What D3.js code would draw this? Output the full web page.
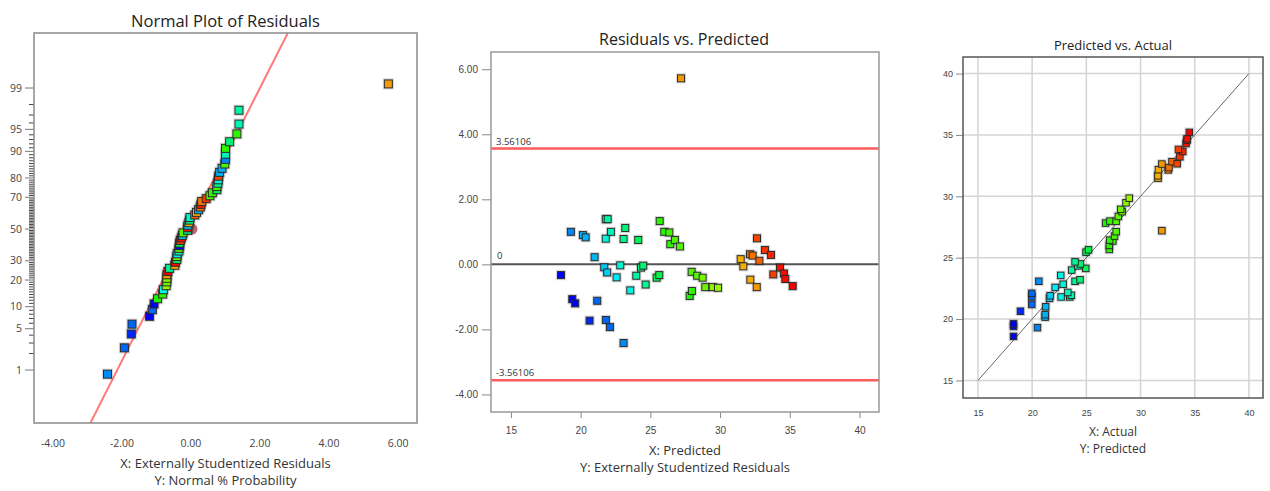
<!DOCTYPE html>
<html>
<head>
<meta charset="utf-8">
<script src="https://cdn.jsdelivr.net/npm/d3@7"></script>
<style>
  html, body { margin: 0; padding: 0; background: #fff; }
  svg { display: block; font-family: "Open Sans", "Noto Sans", sans-serif; }
</style>
</head>
<body>
<svg id="chart" width="1270" height="491"></svg>
<script>
// Diagnostics for 60 runs: model prediction, externally studentized residual, observed response
const predicted = [
  18.59, 19.30, 19.40, 19.61, 20.16, 20.36, 20.64, 21.00, 21.19, 21.69,
  21.80, 21.81, 21.80, 21.94, 21.90, 22.10, 22.17, 22.58, 22.84, 23.08,
  23.08, 23.20, 23.56, 23.99, 24.13, 24.33, 24.49, 24.66, 25.45, 25.64,
  25.67, 26.00, 26.36, 26.43, 26.76, 27.12, 27.20, 27.82, 27.98, 27.96,
  28.36, 28.75, 28.94, 29.47, 29.85, 31.48, 31.67, 32.15, 32.34, 32.82,
  32.65, 33.22, 33.65, 32.17, 32.63, 33.82, 34.30, 34.58, 34.68, 35.21
];
const residual = [
  -0.33,  1.00, -1.07, -1.20,  0.90,  0.83, -1.73,  0.22, -1.12, -0.09,
   0.79, -1.71,  1.39,  1.39, -0.25, -1.93,  1.00, -0.40, -0.03,  0.78,
  -2.42,  1.12, -0.80, -0.35,  0.75, -0.10, -0.04, -0.62, -0.41, -0.33,
   1.33,  1.00,  0.98,  0.62,  0.75,  0.55,  5.72, -0.97, -0.82, -0.23,
  -0.35, -0.41, -0.70, -0.70, -0.72,  0.16, -0.06,  0.31,  0.27,  0.11,
   0.80,  0.44,  0.29, -0.47, -0.70, -0.31, -0.10, -0.28, -0.45, -0.67
];
const actual = [
  18.28, 20.49, 18.28, 18.28, 21.20, 21.20, 18.92, 21.25, 19.97, 21.60,
  22.67, 19.97, 23.47, 23.62, 21.66, 19.97, 23.29, 22.12, 22.86, 23.96,
  20.62, 24.42, 22.64, 23.65, 24.95, 24.22, 24.45, 23.96, 24.97, 25.20,
  27.12, 27.12, 27.45, 27.15, 27.60, 27.75, 31.97, 26.78, 27.18, 27.75,
  27.95, 28.30, 28.17, 28.66, 28.96, 31.62, 31.60, 32.55, 32.62, 32.90,
  33.38, 33.63, 33.90, 31.65, 31.97, 33.50, 34.20, 34.28, 34.30, 34.50
];

// Axis ticks
const probMajor = [1, 5, 10, 20, 30, 50, 70, 80, 90, 95, 99];
const probMinor = d3.range(1, 100);
const residTicks = [-4, -2, 0, 2, 4, 6];
const predTicks = [15, 20, 25, 30, 35, 40];
const residYTicks = [-4, -2, 0, 2, 4, 6];
const pvaTicks = [15, 20, 25, 30, 35, 40];

// Reference lines
const limitValue = 3.56106;
const normalLine = { intercept: -0.07, slope: 0.889 }; // residual = intercept + slope * z

const runs = predicted.map((p, i) => ({ predicted: p, residual: residual[i], actual: actual[i] }));

// Blue -> cyan -> green -> yellow -> red, keyed on the observed response
const hue = d3.scaleLinear().domain(d3.extent(actual)).range([240, 0]);
const color = v => d3.hsl(hue(v), 1, 0.48).formatHex();

// Inverse of the standard normal CDF (Acklam's rational approximation)
function probit(p) {
  const a = [-3.969683028665376e+01, 2.209460984245205e+02, -2.759285104469687e+02, 1.383577518672690e+02, -3.066479806614716e+01, 2.506628277459239e+00];
  const b = [-5.447609879822406e+01, 1.615858368580409e+02, -1.556989798598866e+02, 6.680131188771972e+01, -1.328068155288572e+01];
  const c = [-7.784894002430293e-03, -3.223964580411365e-01, -2.400758277161838e+00, -2.549732539343734e+00, 4.374664141464968e+00, 2.938163982698783e+00];
  const d = [7.784695709041462e-03, 3.224671290700398e-01, 2.445134137142996e+00, 3.754408661907416e+00];
  const pl = 0.02425, ph = 1 - pl;
  let q, r;
  if (p < pl) {
    q = Math.sqrt(-2 * Math.log(p));
    return (((((c[0]*q+c[1])*q+c[2])*q+c[3])*q+c[4])*q+c[5]) / ((((d[0]*q+d[1])*q+d[2])*q+d[3])*q+1);
  } else if (p <= ph) {
    q = p - 0.5; r = q * q;
    return (((((a[0]*r+a[1])*r+a[2])*r+a[3])*r+a[4])*r+a[5])*q / (((((b[0]*r+b[1])*r+b[2])*r+b[3])*r+b[4])*r+1);
  } else {
    q = Math.sqrt(-2 * Math.log(1 - p));
    return -(((((c[0]*q+c[1])*q+c[2])*q+c[3])*q+c[4])*q+c[5]) / ((((d[0]*q+d[1])*q+d[2])*q+d[3])*q+1);
  }
}

const svg = d3.select("#chart");
svg.append("rect").attr("width", 1270).attr("height", 491).attr("fill", "#fff");

function drawSquares(g, data, xf, yf, size) {
  const s = size;
  g.selectAll(null).data(data).join("rect")
    .attr("x", d => xf(d) - s / 2 - 1).attr("y", d => yf(d) - s / 2 - 1)
    .attr("width", s + 2).attr("height", s + 2)
    .attr("fill", "none").attr("stroke", "rgba(0,0,0,0.15)").attr("stroke-width", 1.2);
  g.selectAll(null).data(data).join("rect")
    .attr("x", d => xf(d) - s / 2).attr("y", d => yf(d) - s / 2)
    .attr("width", s).attr("height", s)
    .attr("fill", d => color(d.actual))
    .attr("stroke", "#2a2a2a").attr("stroke-width", 1);
}

function frame(g, x0, y0, x1, y1, stroke, width) {
  g.append("rect").attr("x", x0).attr("y", y0).attr("width", x1 - x0).attr("height", y1 - y0)
    .attr("fill", "none").attr("stroke", stroke).attr("stroke-width", width);
}

/* ---------- Normal plot of residuals ---------- */
{
  const L = { x0: 34, x1: 417, y0: 33, y1: 423 };
  const g = svg.append("g");
  const x = d3.scaleLinear().domain([-4.55, 6.55]).range([L.x0, L.x1]);
  const yz = d3.scaleLinear().domain([-3.20, 3.234]).range([L.y1, L.y0]);
  const yp = p => yz(probit(p / 100));

  g.append("text").attr("x", 225.5).attr("y", 27).attr("text-anchor", "middle")
    .attr("font-size", 16.5).attr("fill", "#222").text("Normal Plot of Residuals");

  // probability ticks
  g.selectAll(null).data(probMinor).join("line")
    .attr("x1", d => probMajor.includes(d) ? L.x0 - 9 : L.x0 - 5).attr("x2", L.x0)
    .attr("y1", d => yp(d)).attr("y2", d => yp(d))
    .attr("stroke", d => probMajor.includes(d) ? "#777" : "#444").attr("stroke-width", 1);
  g.selectAll(null).data(probMajor).join("text")
    .attr("x", L.x0 - 12).attr("y", d => yp(d) + 3.5).attr("text-anchor", "end")
    .attr("font-size", 10.5).attr("fill", "#444").text(d => d);

  g.selectAll(null).data(residTicks).join("text")
    .attr("x", d => x(d)).attr("y", 447).attr("text-anchor", "middle")
    .attr("font-size", 10.5).attr("fill", "#444").text(d => d.toFixed(2));

  // fitted normal line
  const zLo = yz.domain()[0], zHi = yz.domain()[1];
  const clip = g.append("clipPath").attr("id", "clipNormal");
  clip.append("rect").attr("x", L.x0).attr("y", L.y0).attr("width", L.x1 - L.x0).attr("height", L.y1 - L.y0);
  g.append("line").attr("clip-path", "url(#clipNormal)")
    .attr("x1", x(normalLine.intercept + normalLine.slope * zLo)).attr("y1", yz(zLo))
    .attr("x2", x(normalLine.intercept + normalLine.slope * zHi)).attr("y2", yz(zHi))
    .attr("stroke", "#ff7b7b").attr("stroke-width", 2);

  const sorted = runs.slice().sort((a, b) => a.residual - b.residual);
  const n = sorted.length;
  sorted.forEach((d, i) => { d.prob = (i + 0.5) / n * 100; });

  // highlighted median run
  g.append("circle").attr("cx", x(0.03)).attr("cy", yp(50)).attr("r", 5.5)
    .attr("fill", "#a8505c").attr("opacity", 0.85);

  drawSquares(g, sorted, d => x(d.residual), d => yp(d.prob), 8);

  frame(g, L.x0, L.y0, L.x1, L.y1, "#8a8a8a", 1.5);

  g.append("text").attr("x", 225.5).attr("y", 468).attr("text-anchor", "middle")
    .attr("font-size", 13).attr("fill", "#333").text("X: Externally Studentized Residuals");
  g.append("text").attr("x", 225.5).attr("y", 485).attr("text-anchor", "middle")
    .attr("font-size", 13).attr("fill", "#333").text("Y: Normal % Probability");
}

/* ---------- Residuals vs. Predicted ---------- */
{
  const M = { x0: 491, x1: 879, y0: 52, y1: 412 };
  const g = svg.append("g");
  const x = d3.scaleLinear().domain([13.57, 41.4]).range([M.x0, M.x1]);
  const y = d3.scaleLinear().domain([-4.54, 6.53]).range([M.y1, M.y0]);

  g.append("text").attr("x", 684).attr("y", 45).attr("text-anchor", "middle")
    .attr("font-size", 16).attr("fill", "#222").text("Residuals vs. Predicted");

  g.append("g").attr("transform", `translate(0,${M.y1})`)
    .call(d3.axisBottom(x).tickValues(predTicks).tickSize(6).tickPadding(9).tickFormat(d => d))
    .call(a => a.select(".domain").remove())
    .call(a => a.selectAll("line").attr("stroke", "#888"))
    .call(a => a.selectAll("text").attr("font-size", 10).attr("fill", "#444").attr("font-family", null));

  g.append("g").attr("transform", `translate(${M.x0},0)`)
    .call(d3.axisLeft(y).tickValues(residYTicks).tickSize(9).tickPadding(4).tickFormat(d => d.toFixed(2)))
    .call(a => a.select(".domain").remove())
    .call(a => a.selectAll("line").attr("stroke", "#888"))
    .call(a => a.selectAll("text").attr("font-size", 10).attr("fill", "#444").attr("font-family", null));

  // control limits and zero line
  [limitValue, -limitValue].forEach(v => {
    g.append("line").attr("x1", M.x0).attr("x2", M.x1).attr("y1", y(v)).attr("y2", y(v))
      .attr("stroke", "#ff5c5c").attr("stroke-width", 2.5);
    g.append("text").attr("x", M.x0 + 5).attr("y", y(v) - 4).attr("font-size", 9.5)
      .attr("fill", "#333").text(v.toFixed(5));
  });
  g.append("line").attr("x1", M.x0).attr("x2", M.x1).attr("y1", y(0)).attr("y2", y(0))
    .attr("stroke", "#555").attr("stroke-width", 2);
  g.append("text").attr("x", M.x0 + 6).attr("y", y(0) - 5).attr("font-size", 9.5)
    .attr("fill", "#333").text("0");

  drawSquares(g, runs, d => x(d.predicted), d => y(d.residual), 7);

  frame(g, M.x0, M.y0, M.x1, M.y1, "#999", 1.5);

  g.append("text").attr("x", 685).attr("y", 455).attr("text-anchor", "middle")
    .attr("font-size", 13).attr("fill", "#333").text("X: Predicted");
  g.append("text").attr("x", 685).attr("y", 472).attr("text-anchor", "middle")
    .attr("font-size", 13).attr("fill", "#333").text("Y: Externally Studentized Residuals");
}

/* ---------- Predicted vs. Actual ---------- */
{
  const R = { x0: 963, x1: 1263, y0: 57, y1: 398 };
  const g = svg.append("g");
  const x = d3.scaleLinear().domain([13.62, 41.3]).range([R.x0, R.x1]);
  const y = d3.scaleLinear().domain([13.57, 41.35]).range([R.y1, R.y0]);

  g.append("text").attr("x", 1113).attr("y", 50).attr("text-anchor", "middle")
    .attr("font-size", 13).attr("fill", "#222").text("Predicted vs. Actual");

  // grid
  g.selectAll(null).data(pvaTicks).join("line")
    .attr("x1", d => x(d)).attr("x2", d => x(d)).attr("y1", R.y0).attr("y2", R.y1)
    .attr("stroke", "#d4d4d4").attr("stroke-width", 1.5);
  g.selectAll(null).data(pvaTicks).join("line")
    .attr("x1", R.x0).attr("x2", R.x1).attr("y1", d => y(d)).attr("y2", d => y(d))
    .attr("stroke", "#d4d4d4").attr("stroke-width", 1.5);

  g.append("g").attr("transform", `translate(0,${R.y1})`)
    .call(d3.axisBottom(x).tickValues(pvaTicks).tickSize(0).tickPadding(12).tickFormat(d => d))
    .call(a => a.select(".domain").remove())
    .call(a => a.selectAll("text").attr("font-size", 9).attr("fill", "#444").attr("font-family", null));
  g.append("g").attr("transform", `translate(${R.x0},0)`)
    .call(d3.axisLeft(y).tickValues(pvaTicks).tickSize(7).tickPadding(3).tickFormat(d => d))
    .call(a => a.select(".domain").remove())
    .call(a => a.selectAll("line").attr("stroke", "#888"))
    .call(a => a.selectAll("text").attr("font-size", 9).attr("fill", "#444").attr("font-family", null));

  // line of equality
  g.append("line").attr("x1", x(15)).attr("y1", y(15)).attr("x2", x(40)).attr("y2", y(40))
    .attr("stroke", "#666").attr("stroke-width", 1);

  drawSquares(g, runs, d => x(d.actual), d => y(d.predicted), 6.5);

  frame(g, R.x0, R.y0, R.x1, R.y1, "#555", 1.5);

  g.append("text").attr("x", 1113).attr("y", 436).attr("text-anchor", "middle")
    .attr("font-size", 12).attr("fill", "#333").text("X: Actual");
  g.append("text").attr("x", 1113).attr("y", 453).attr("text-anchor", "middle")
    .attr("font-size", 12).attr("fill", "#333").text("Y: Predicted");
}
</script>
</body>
</html>
